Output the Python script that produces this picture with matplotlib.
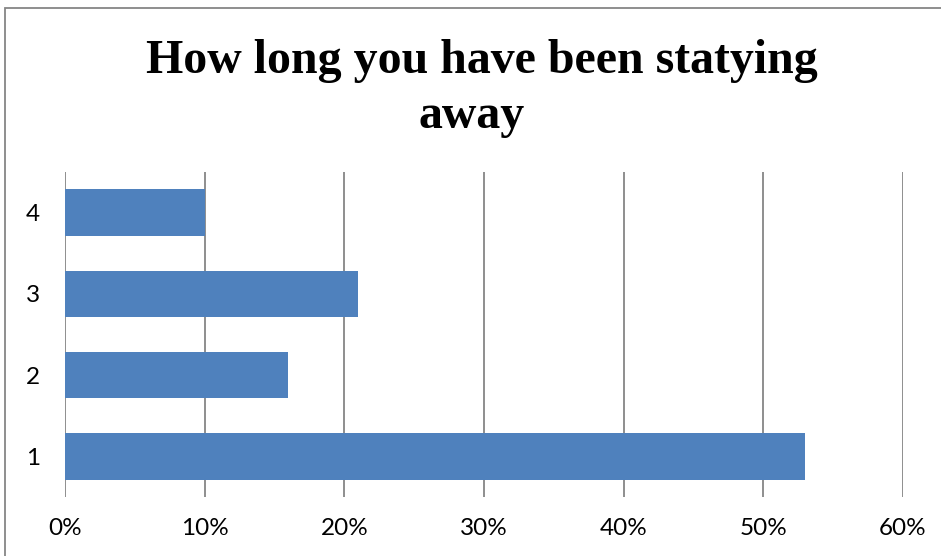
import numpy as np
import matplotlib
matplotlib.use('Agg')
import matplotlib.pyplot as plt
from matplotlib.patches import Rectangle
from matplotlib.ticker import PercentFormatter

# survey answers: share of respondents per group
categories = ['1', '2', '3', '4']
shares = [0.53, 0.16, 0.21, 0.10]
xticks = [0.0, 0.1, 0.2, 0.3, 0.4, 0.5, 0.6]

W, H = 941, 556
fig = plt.figure(figsize=(W / 100, H / 100), dpi=100)
ax = fig.add_axes([65/W, 1 - 497/H, (903 - 65)/W, (497 - 172)/H])

y = np.arange(len(categories))
ax.barh(y, shares, height=0.57, color='#4F81BD', zorder=2)

ax.set_xlim(0, 0.6)
ax.set_ylim(-0.5, len(categories) - 0.5)
ax.set_xticks(xticks)
ax.xaxis.set_major_formatter(PercentFormatter(1.0, decimals=0))
ax.set_yticks(y)
ax.set_yticklabels(categories)
ax.grid(axis='x', color='#868686', linewidth=1.3, zorder=1)
for s in ax.spines.values():
    s.set_visible(False)
ax.tick_params(length=0, labelsize=17.5, colors='black')
ax.tick_params(axis='x', pad=15)
ax.tick_params(axis='y', pad=18)
for lab in ax.get_xticklabels() + ax.get_yticklabels():
    lab.set_fontfamily('Lato')

# two-line title, baselines placed separately
title_kw = dict(ha='center', va='baseline', fontsize=34.5, fontweight='bold',
                family='Liberation Serif')
fig.text(482/W, 1 - 73/H, 'How long you have been statying', **title_kw)
fig.text(472/W, 1 - 128/H, 'away', **title_kw)

# chart area frame
fig.patches.append(Rectangle((5/W, -0.05), 1.2, 1 - 8/H + 0.05, transform=fig.transFigure,
                             fill=False, edgecolor='#868686', linewidth=1.3))

fig.savefig('out.png', dpi=100)
